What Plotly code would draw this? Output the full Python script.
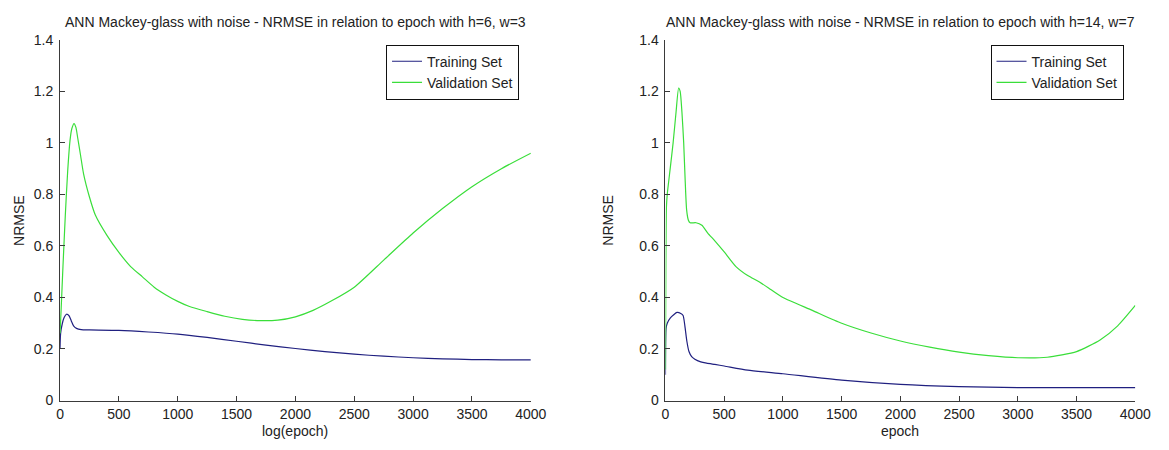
import plotly.graph_objects as go

W, H = 1169, 450

# ---------------- data ----------------
tick_vals_x = [0, 500, 1000, 1500, 2000, 2500, 3000, 3500, 4000]
tick_vals_y = [0, 0.2, 0.4, 0.6, 0.8, 1.0, 1.2, 1.4]
tick_text_y = ["0", "0.2", "0.4", "0.6", "0.8", "1", "1.2", "1.4"]

# left panel: h=6, w=3
train_left_x = [0, 5, 20, 35, 55, 75, 95, 115, 140, 180, 250, 500, 750, 1000, 1250,
                1500, 1750, 2000, 2250, 2500, 2750, 3000, 3250, 3500, 3750, 4000]
train_left_y = [0.20, 0.26, 0.30, 0.322, 0.335, 0.33, 0.31, 0.29, 0.28, 0.275, 0.274,
                0.272, 0.266, 0.258, 0.245, 0.23, 0.215, 0.202, 0.19, 0.18, 0.172,
                0.166, 0.162, 0.159, 0.158, 0.158]

val_left_x = [0, 10, 25, 45, 65, 85, 100, 119, 135, 150, 175, 200, 250, 300, 400, 500,
              600, 700, 800, 900, 1000, 1100, 1250, 1400, 1550, 1700, 1850, 2000, 2150,
              2300, 2500, 2750, 3000, 3250, 3500, 3750, 4000]
val_left_y = [0.26, 0.36, 0.52, 0.72, 0.89, 1.01, 1.055, 1.075, 1.06, 1.02, 0.95, 0.88,
              0.79, 0.72, 0.64, 0.575, 0.52, 0.48, 0.44, 0.41, 0.385, 0.365, 0.345,
              0.327, 0.315, 0.31, 0.312, 0.325, 0.35, 0.385, 0.44, 0.545, 0.65, 0.745,
              0.83, 0.90, 0.96]

# right panel: h=14, w=7
train_right_x = [0, 5, 15, 40, 70, 98, 130, 150, 165, 182, 200, 223, 250, 300, 350, 420,
                 500, 700, 1000, 1500, 2000, 2500, 3000, 3500, 4000]
train_right_y = [0.10, 0.28, 0.30, 0.32, 0.333, 0.342, 0.338, 0.33, 0.29, 0.23, 0.19,
                 0.17, 0.16, 0.15, 0.145, 0.14, 0.134, 0.118, 0.104, 0.079, 0.0625,
                 0.054, 0.05, 0.05, 0.05]

val_right_x = [0, 3, 8, 15, 40, 65, 90, 112, 125, 140, 155, 168, 180, 195, 210, 260,
               310, 360, 420, 500, 600, 700, 800, 900, 1000, 1250, 1500, 1750, 2000,
               2250, 2500, 2750, 3000, 3250, 3500, 3700, 3850, 4000]
val_right_y = [0.12, 0.50, 0.75, 0.80, 0.90, 1.00, 1.12, 1.213, 1.20, 1.12, 1.00, 0.85,
               0.74, 0.70, 0.69, 0.69, 0.68, 0.65, 0.62, 0.577, 0.52, 0.485, 0.46, 0.43,
               0.40, 0.35, 0.30, 0.262, 0.231, 0.207, 0.1875, 0.174, 0.166, 0.168,
               0.19, 0.235, 0.29, 0.369]

titles = ["ANN Mackey-glass with noise - NRMSE in relation to epoch with h=6, w=3",
          "ANN Mackey-glass with noise - NRMSE in relation to epoch with h=14, w=7"]
xlabels = ["log(epoch)", "epoch"]
ylabel = "NRMSE"
names = ["Training Set", "Validation Set"]

# ---------------- style ----------------
BLUE = "#202080"
GREEN = "#3ade3a"
AXC = "#3a3a3a"
FONT = "Liberation Sans, Arial, sans-serif"
TXT = "#222"

# axes placement (pixels)
ax_left = [(57, 536), (673, 1151)]
ylab_off = [42, 58]
y_top, y_bot = 33, 407

def px(x):
    return x / W

def py(y):
    return 1 - y / H

fig = go.Figure()

panels = [
    (train_left_x, train_left_y, val_left_x, val_left_y, "x", "y", "legend"),
    (train_right_x, train_right_y, val_right_x, val_right_y, "x2", "y2", "legend2"),
]
for tx, ty, vx, vy, xa, ya, lg in panels:
    fig.add_trace(go.Scatter(x=tx, y=ty, mode="lines", name=names[0],
                             line=dict(color=BLUE, width=1.2, shape="spline", smoothing=0.6),
                             xaxis=xa, yaxis=ya, legend=lg))
    fig.add_trace(go.Scatter(x=vx, y=vy, mode="lines", name=names[1],
                             line=dict(color=GREEN, width=1.2, shape="spline", smoothing=0.6),
                             xaxis=xa, yaxis=ya, legend=lg))

axis_common = dict(showgrid=False, zeroline=False, showline=True, linecolor=AXC,
                   linewidth=1, ticks="inside", ticklen=5, tickcolor=AXC,
                   tickfont=dict(family=FONT, size=14, color=TXT), mirror=False)

layout = dict(
    width=W, height=H, margin=dict(l=0, r=0, t=0, b=0),
    paper_bgcolor="white", plot_bgcolor="white", showlegend=True,
    font=dict(family=FONT, size=14, color=TXT),
)
for i, (xa, ya) in enumerate([("xaxis", "yaxis"), ("xaxis2", "yaxis2")]):
    x0, x1 = ax_left[i]
    layout[xa] = dict(axis_common, domain=[px(x0), px(x1)], range=[0, 4000],
                      tickvals=tick_vals_x, anchor="y" if i == 0 else "y2",
                      ticklabelstandoff=1)
    layout[ya] = dict(axis_common, domain=[py(y_bot), py(y_top)], range=[0, 1.4],
                      tickvals=tick_vals_y, ticktext=tick_text_y,
                      anchor="x" if i == 0 else "x2", ticklabelstandoff=3)

for i, lg in enumerate(["legend", "legend2"]):
    x0, x1 = ax_left[i]
    layout[lg] = dict(x=px(x1 - 12), y=py(38), xanchor="right", yanchor="top",
                      bgcolor="white", bordercolor="#111", borderwidth=1,
                      font=dict(family=FONT, size=14, color=TXT),
                      tracegroupgap=0, itemwidth=30)

fig.update_layout(**layout)

for i in range(2):
    x0, x1 = ax_left[i]
    cx = (x0 + x1) / 2
    fig.add_annotation(x=px(cx), y=py(15), xref="paper", yref="paper", text=titles[i],
                       showarrow=False, xanchor="center", yanchor="middle",
                       font=dict(family=FONT, size=14, color=TXT))
    fig.add_annotation(x=px(cx), y=py(439), xref="paper", yref="paper", text=xlabels[i],
                       showarrow=False, xanchor="center", yanchor="middle",
                       font=dict(family=FONT, size=14, color=TXT))
    fig.add_annotation(x=px(x0 - ylab_off[i]), y=py((y_top + y_bot) / 2), xref="paper",
                       yref="paper", text=ylabel, textangle=-90, showarrow=False,
                       xanchor="center", yanchor="middle",
                       font=dict(family=FONT, size=14, color=TXT))

fig.write_html("out.html")
